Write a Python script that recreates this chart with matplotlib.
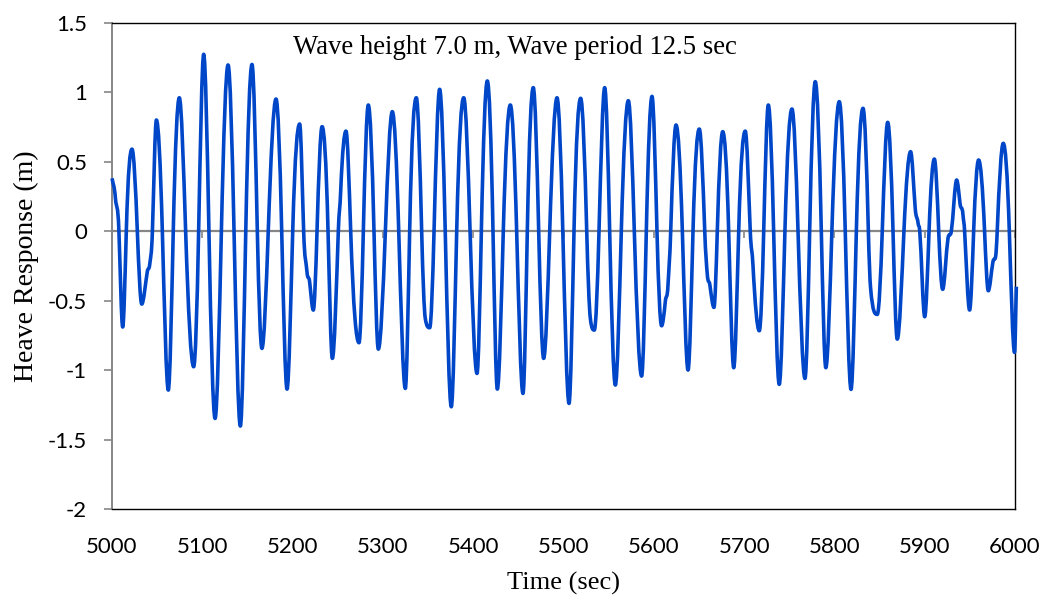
import numpy as np
import matplotlib
matplotlib.use("Agg")
import matplotlib.pyplot as plt
from matplotlib.path import Path
from matplotlib.patches import PathPatch

plt.rcParams['axes.unicode_minus'] = False

# Heave response: peaks, troughs, zero crossings, shoulders
time_s = [
    5000.0, 5003.7, 5007.6, 5011.8, 5015.8, 5022.1, 5028.0, 5032.9, 5039.1, 5041.7,
    5044.7, 5049.1, 5055.7, 5062.3, 5067.8, 5074.5, 5081.5, 5090.4, 5095.9, 5101.5,
    5107.3, 5114.1, 5121.1, 5128.5, 5135.1, 5142.1, 5148.1, 5155.0, 5160.9, 5166.0,
    5173.0, 5181.6, 5187.9, 5193.8, 5200.1, 5207.8, 5212.2, 5215.9, 5218.8, 5222.9,
    5227.0, 5232.6, 5239.2, 5244.0, 5250.6, 5253.2, 5259.1, 5264.3, 5273.5, 5278.3,
    5283.8, 5290.1, 5294.9, 5302.7, 5310.4, 5317.5, 5324.8, 5329.6, 5337.0, 5342.9,
    5346.9, 5351.8, 5356.6, 5362.8, 5369.0, 5375.7, 5381.7, 5389.5, 5396.5, 5404.2,
    5409.0, 5415.6, 5421.9, 5426.7, 5433.3, 5441.1, 5448.1, 5455.1, 5459.9, 5466.5,
    5472.5, 5478.0, 5484.7, 5492.8, 5499.2, 5506.1, 5511.6, 5519.0, 5525.7, 5529.7,
    5534.1, 5539.3, 5545.6, 5551.1, 5557.4, 5564.0, 5571.8, 5578.4, 5586.5, 5591.7,
    5598.0, 5603.5, 5608.6, 5612.7, 5615.7, 5618.7, 5624.6, 5631.6, 5637.9, 5643.4,
    5650.4, 5656.4, 5659.3, 5662.1, 5666.6, 5670.3, 5676.3, 5682.9, 5688.5, 5694.0,
    5701.3, 5706.8, 5709.8, 5716.8, 5721.7, 5726.8, 5732.7, 5738.9, 5745.2, 5753.0,
    5759.7, 5767.4, 5772.6, 5778.8, 5785.5, 5790.5, 5797.2, 5805.4, 5812.0, 5818.4,
    5824.3, 5831.7, 5837.6, 5840.1, 5847.5, 5853.0, 5859.0, 5864.9, 5869.6, 5877.0,
    5884.4, 5889.5, 5892.6, 5894.5, 5900.0, 5904.8, 5910.7, 5915.5, 5919.9, 5925.8,
    5929.5, 5935.4, 5939.1, 5942.4, 5944.2, 5949.7, 5954.2, 5959.7, 5966.3, 5970.4,
    5975.6, 5978.5, 5980.3, 5987.0, 5993.7, 5999.5, 6001.5,
]
heave_m = [
    0.38, 0.24, 0.0, -0.69, 0.0, 0.59, 0.0, -0.525, -0.29, -0.24,
    0.0, 0.80, 0.0, -1.144, 0.0, 0.96, 0.0, -0.976, 0.0, 1.273,
    0.0, -1.348, 0.0, 1.196, 0.0, -1.403, 0.0, 1.20, 0.0, -0.844,
    0.0, 0.951, 0.0, -1.137, 0.0, 0.771, 0.0, -0.292, -0.364, -0.568,
    0.0, 0.752, 0.0, -0.916, 0.0, 0.284, 0.72, 0.0, -0.803, 0.0,
    0.908, 0.0, -0.849, 0.0, 0.86, 0.0, -1.132, 0.0, 0.96, 0.0,
    -0.628, -0.695, 0.0, 1.021, 0.0, -1.264, 0.0, 0.96, 0.0, -1.024,
    0.0, 1.081, 0.0, -1.137, 0.0, 0.908, 0.0, -1.168, 0.0, 1.033,
    0.0, -0.916, 0.0, 0.96, 0.0, -1.24, 0.0, 0.956, 0.0, -0.628,
    -0.712, 0.0, 1.033, 0.0, -1.108, 0.0, 0.939, 0.0, -1.043, 0.0,
    0.97, 0.0, -0.681, -0.508, -0.388, 0.0, 0.764, 0.0, -1.0, 0.0,
    0.735, 0.0, -0.316, -0.388, -0.549, 0.0, 0.716, 0.0, -0.983, 0.0,
    0.72, 0.0, -0.244, -0.717, 0.0, 0.908, 0.0, -1.103, 0.0, 0.879,
    0.0, -1.06, 0.0, 1.076, 0.0, -0.983, 0.0, 0.932, 0.0, -1.139,
    0.0, 0.884, 0.0, -0.412, -0.599, 0.0, 0.783, 0.0, -0.777, 0.0,
    0.572, 0.164, 0.06, 0.0, -0.616, 0.0, 0.519, 0.0, -0.419, -0.052,
    0.0, 0.368, 0.20, 0.116, 0.0, -0.568, 0.0, 0.512, 0.0, -0.429,
    -0.22, -0.184, 0.0, 0.632, 0.0, -0.873, -0.40,
]

x_ticks = list(range(5000, 6001, 100))
y_ticks = [-2, -1.5, -1, -0.5, 0, 0.5, 1, 1.5]
y_labels = ['-2', '-1.5', '-1', '-0.5', '0', '0.5', '1', '1.5']

fig = plt.figure(figsize=(10.54, 5.95), dpi=100)
ax = fig.add_axes([0.1063, 0.1445, 0.8567, 0.8173])
ax.set_xlim(5000, 6000)
ax.set_ylim(-2, 1.5)

# smoothed line: cubic Hermite segments (as Bezier) through the read points
t = np.array(time_s)
y = np.array(heave_m)
h = np.diff(t)
d = np.diff(y) / h
m = np.zeros_like(y)
m[0], m[-1] = d[0], d[-1]
for i in range(1, len(y) - 1):
    dl, dr = d[i - 1], d[i]
    if dl * dr <= 0:
        m[i] = 0.0  # peak / trough
    else:
        s = (dl * h[i] + dr * h[i - 1]) / (h[i - 1] + h[i]) * np.pi / 2
        lim = 3 * min(abs(dl), abs(dr))
        m[i] = np.sign(s) * min(abs(s), lim)

verts = [(t[0], y[0])]
codes = [Path.MOVETO]
for i in range(len(t) - 1):
    verts += [(t[i] + h[i] / 3, y[i] + m[i] * h[i] / 3),
              (t[i + 1] - h[i] / 3, y[i + 1] - m[i + 1] * h[i] / 3),
              (t[i + 1], y[i + 1])]
    codes += [Path.CURVE4] * 3
curve = PathPatch(Path(verts, codes), facecolor='none', edgecolor='#0046C8',
                  lw=2.6, clip_on=False, zorder=3, joinstyle='round')
ax.add_patch(curve)

# frame
for s in ['top', 'right', 'bottom']:
    ax.spines[s].set_color('black')
    ax.spines[s].set_linewidth(1.0)
ax.spines['left'].set_color('#868686')
ax.spines['left'].set_linewidth(1.4)

sans = ['Lato', 'DejaVu Sans']
serif = ['Liberation Serif', 'DejaVu Serif']

ax.set_yticks(y_ticks)
ax.set_yticklabels(y_labels, family=sans, fontsize=16)
ax.tick_params(axis='y', direction='out', length=6, width=1.2, color='#868686', pad=12)

ax.set_xticks(x_ticks)
ax.set_xticklabels([str(v) for v in x_ticks], family=sans, fontsize=16)
ax.tick_params(axis='x', length=0, pad=20)

# horizontal axis crossing at zero, with tick marks but no labels
zero_frac = (0 - (-2)) / 3.5
sec = ax.secondary_xaxis(zero_frac)
sec.set_alignment('bottom')
sec.set_xticks(x_ticks)
sec.tick_params(axis='x', direction='out', length=5, width=1.2, color='#868686', labelbottom=False, labeltop=False)
sec.spines['bottom'].set_color('#868686')
sec.spines['bottom'].set_linewidth(1.6)

ax.set_xlabel('Time (sec)', family=serif, fontsize=19, labelpad=11)
ax.set_ylabel('Heave Response (m)', family=serif, fontsize=20, labelpad=6)

ax.text(0.2, 0.95, 'Wave height 7.0 m, Wave period 12.5 sec', transform=ax.transAxes,
        family=serif, fontsize=19.3, ha='left', va='center')

fig.savefig('out.png', dpi=100)
